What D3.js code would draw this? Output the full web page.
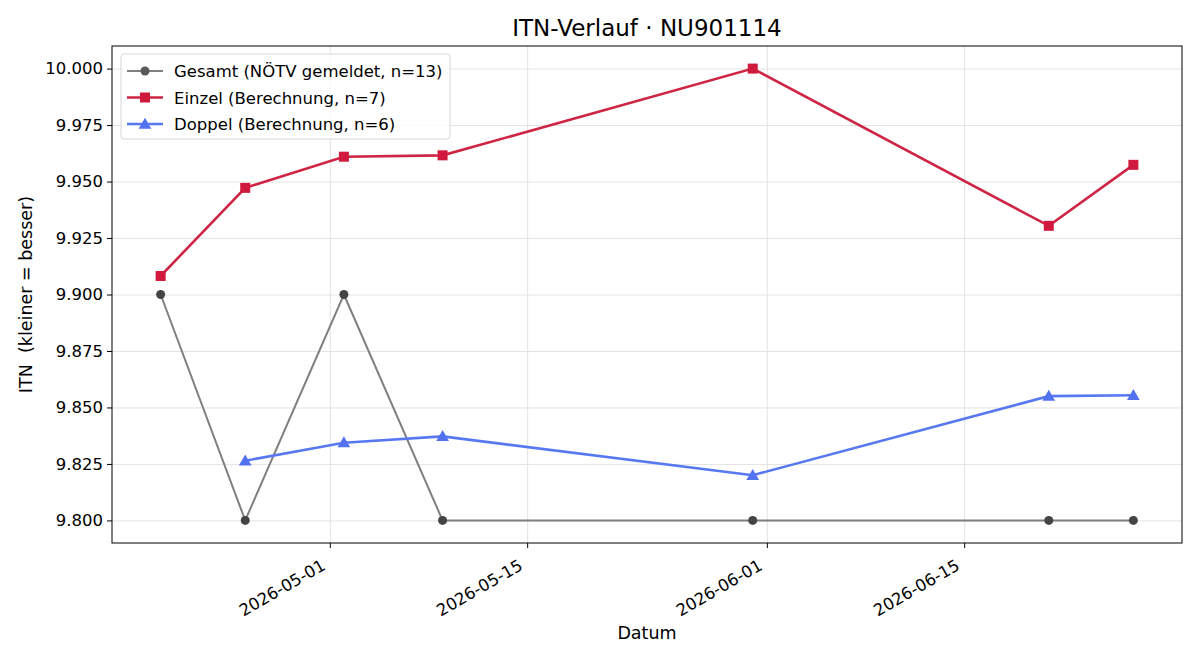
<!DOCTYPE html>
<meta charset="utf-8">
<style>
body { margin: 0; background: #fff; }
text { font-family: "DejaVu Sans", sans-serif; fill: #000; }
.grid line { stroke: #e3e3e3; stroke-width: 1; }
.grid path { display: none; }
.axis text { font-size: 16.5px; }
.axis path, .axis line { stroke: #000; stroke-width: 1; }
</style>
<svg width="1200" height="660"></svg>
<script src="https://d3js.org/d3.v7.min.js"></script>
<script>
var dates = ["2026-04-19", "2026-04-25", "2026-05-02", "2026-05-09", "2026-05-31", "2026-06-21", "2026-06-27"];
var gesamt = [9.900, 9.800, 9.900, 9.800, 9.800, 9.800, 9.800];
var einzel = [9.9082, 9.9472, 9.9610, 9.9616, 10.000, 9.9304, 9.9574];
var doppelDates = ["2026-04-25", "2026-05-02", "2026-05-09", "2026-05-31", "2026-06-21", "2026-06-27"];
var doppel = [9.8264, 9.8344, 9.8372, 9.8200, 9.8550, 9.8554];
var yTicks = [9.800, 9.825, 9.850, 9.875, 9.900, 9.925, 9.950, 9.975, 10.000];
var xTicks = ["2026-05-01", "2026-05-15", "2026-06-01", "2026-06-15"];
var labels = ["Gesamt (NÖTV gemeldet, n=13)", "Einzel (Berechnung, n=7)", "Doppel (Berechnung, n=6)"];

var parse = d3.utcParse("%Y-%m-%d");
var svg = d3.select("svg"),
    margin = {top: 46, right: 18, bottom: 117, left: 112},
    width = +svg.attr("width") - margin.left - margin.right,
    height = +svg.attr("height") - margin.top - margin.bottom;

var t0 = parse(dates[0]), t1 = parse(dates[dates.length - 1]);
var pad = (t1 - t0) * 0.05;
var x = d3.scaleUtc().domain([new Date(+t0 - pad), new Date(+t1 + pad)]).range([0, width]);
var y = d3.scaleLinear().domain([9.79, 10.01]).range([height, 0]);

var g = svg.append("g").attr("transform", "translate(" + margin.left + "," + margin.top + ")");

g.append("g").attr("class", "grid")
    .attr("transform", "translate(0," + height + ")")
    .call(d3.axisBottom(x).tickValues(xTicks.map(parse)).tickSize(-height).tickFormat(""));
g.append("g").attr("class", "grid")
    .call(d3.axisLeft(y).tickValues(yTicks).tickSize(-width).tickFormat(""));

var xAxis = g.append("g").attr("class", "axis")
    .attr("transform", "translate(0," + height + ")")
    .call(d3.axisBottom(x).tickValues(xTicks.map(parse)).tickSize(5).tickFormat(d3.utcFormat("%Y-%m-%d")));
xAxis.select(".domain").remove();
xAxis.selectAll("text")
    .attr("x", 0).attr("y", 0)
    .attr("text-anchor", "end")
    .attr("dy", "0.75em")
    .attr("transform", "translate(-10,15) rotate(-30)");

var yAxis = g.append("g").attr("class", "axis")
    .call(d3.axisLeft(y).tickValues(yTicks).tickSize(5).tickPadding(4).tickFormat(d3.format(".3f")));
yAxis.select(".domain").remove();

g.append("rect").attr("width", width).attr("height", height)
    .attr("fill", "none").attr("stroke", "#000").attr("stroke-width", 1);

var line = d3.line().x(function(d) { return x(d.date); }).y(function(d) { return y(d.v); });
function pts(ds, vs) { return ds.map(function(d, i) { return {date: parse(d), v: vs[i]}; }); }

var sG = pts(dates, gesamt), sE = pts(dates, einzel), sD = pts(doppelDates, doppel);

// Gesamt
g.append("path").datum(sG).attr("d", line)
    .attr("fill", "none").attr("stroke", "#7f7f7f").attr("stroke-width", 2);
g.selectAll(".pg").data(sG).enter().append("circle")
    .attr("cx", function(d) { return x(d.date); }).attr("cy", function(d) { return y(d.v); })
    .attr("r", 4.5).attr("fill", "#444");

// Einzel
g.append("path").datum(sE).attr("d", line)
    .attr("fill", "none").attr("stroke", "#cf2545").attr("stroke-width", 2.6);
g.selectAll(".pe").data(sE).enter().append("rect")
    .attr("x", function(d) { return x(d.date) - 5; }).attr("y", function(d) { return y(d.v) - 5; })
    .attr("width", 10).attr("height", 10).attr("fill", "#cf1a3e");

// Doppel
var tri = d3.symbol().type(d3.symbolTriangle).size(70);
g.append("path").datum(sD).attr("d", line)
    .attr("fill", "none").attr("stroke", "#5878f2").attr("stroke-width", 2.6);
g.selectAll(".pd").data(sD).enter().append("path")
    .attr("d", tri)
    .attr("transform", function(d) { return "translate(" + x(d.date) + "," + (y(d.v) + 1) + ")"; })
    .attr("fill", "#5272f0");

// Title and axis labels
svg.append("text").attr("x", margin.left + width / 2).attr("y", 36)
    .attr("text-anchor", "middle").style("font-size", "23px").text("ITN-Verlauf · NU901114");
svg.append("text").attr("x", margin.left + width / 2).attr("y", 639)
    .attr("text-anchor", "middle").style("font-size", "17.5px").text("Datum");
svg.append("text").attr("transform", "translate(32," + (margin.top + height / 2) + ") rotate(-90)")
    .attr("text-anchor", "middle").style("font-size", "17.5px").style("white-space", "pre")
    .text("ITN  (kleiner = besser)");

// Legend
var lg = svg.append("g").attr("transform", "translate(121,54)");
lg.append("rect").attr("width", 329).attr("height", 85).attr("rx", 3)
    .attr("fill", "#fff").attr("fill-opacity", 0.8).attr("stroke", "#d6d6d6");
var rows = [
  {c: "#7f7f7f", m: "circle", mc: "#5a5a5a", w: 2},
  {c: "#cf2545", m: "square", mc: "#cf1a3e", w: 2.6},
  {c: "#5878f2", m: "triangle", mc: "#5272f0", w: 2.6}
];
rows.forEach(function(r, i) {
  var yy = 17 + i * 26.5;
  lg.append("line").attr("x1", 6).attr("x2", 42).attr("y1", yy).attr("y2", yy)
      .attr("stroke", r.c).attr("stroke-width", r.w);
  if (r.m === "circle") lg.append("circle").attr("cx", 24).attr("cy", yy).attr("r", 4.5).attr("fill", r.mc);
  else if (r.m === "square") lg.append("rect").attr("x", 19).attr("y", yy - 5).attr("width", 10).attr("height", 10).attr("fill", r.mc);
  else lg.append("path").attr("d", tri).attr("transform", "translate(24," + (yy + 1) + ")").attr("fill", r.mc);
  lg.append("text").attr("x", 53).attr("y", yy + 6).style("font-size", "16.5px").text(labels[i]);
});
</script>
